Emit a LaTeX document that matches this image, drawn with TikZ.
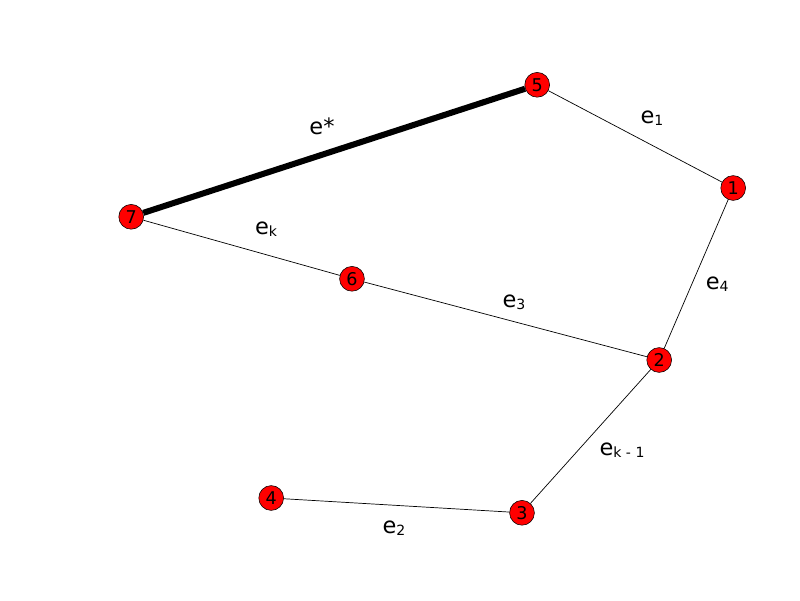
\documentclass[tikz,border=0pt]{standalone}
\usepackage{fontspec}
\setmainfont{DejaVu Sans}
\usetikzlibrary{positioning}
\newcommand{\lbsub}[1]{\raisebox{-0.15ex}{\fontsize{10}{10}\selectfont #1}}
\tikzset{
  vert/.style={circle,draw=black,fill=red,inner sep=0pt,minimum size=0.62cm,font=\fontsize{12.5}{13}\selectfont},
  elabel/.style={font=\fontsize{16}{18}\selectfont},
  thin edge/.style={line width=0.5pt},
  thick edge/.style={line width=4.3pt}
}

\begin{document}
\begin{tikzpicture}
            \useasboundingbox (0,0) rectangle (20,15);
            \node[vert] (5) at (13.43,12.88){5};
            \node[vert] (1) at (18.33,10.30){1};
            \node[vert] (7) at (3.28,9.58){7};
            \node[vert] (6) at (8.80,8.03){6};
            \node[vert] (2) at (16.48,6.00){2};
            \node[vert] (4) at (6.78,2.55){4};
            \node[vert] (3) at (13.05,2.18){3};

            \node[elabel] (lstar) at (8.05,11.85){e*};
            \node[elabel] (l1) at (16.30,12.05){e\lbsub{1}};
            \node[elabel] (l4) at (17.93,7.90){e\lbsub{4}};
            \node[elabel] (l3) at (12.85,7.45){e\lbsub{3}};
            \node[elabel] (lk) at (6.65,9.28){e\lbsub{k}};
            \node[elabel] (lkm) at (15.55,3.75){e\lbsub{k - 1}};
            \node[elabel] (l2) at (9.85,1.80){e\lbsub{2}};

            \draw[thick edge] (7) -- (5);
            \draw[thin edge] (5) -- (1);
            \draw[thin edge] (1) -- (2);
            \draw[thin edge] (7) -- (6);
            \draw[thin edge] (6) -- (2);
            \draw[thin edge] (2) -- (3);
            \draw[thin edge] (4) -- (3);
        \end{tikzpicture}
\end{document}
